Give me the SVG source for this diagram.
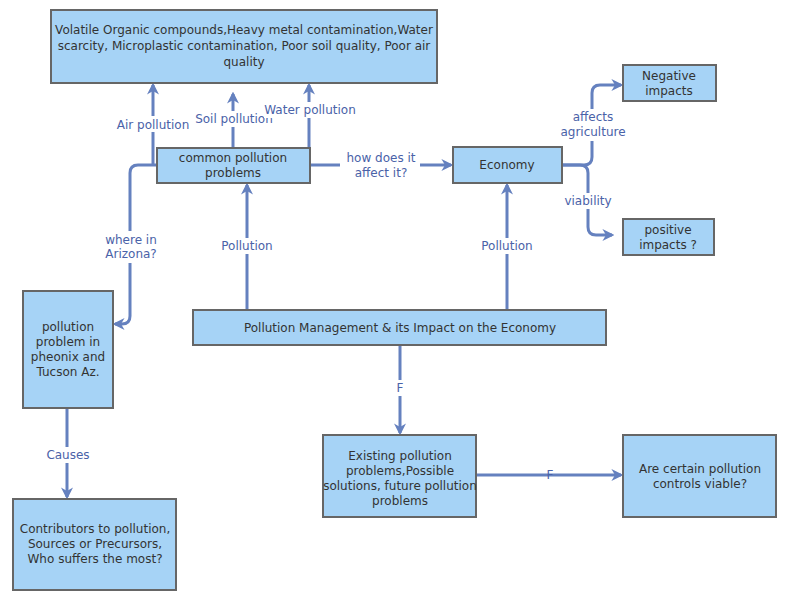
<svg xmlns="http://www.w3.org/2000/svg" width="790" height="600" viewBox="0 0 790 600">
<defs>
<style>
.n{fill:#a6d3f6;stroke:#666;stroke-width:2}
.t{font-family:"Comic Sans MS","DejaVu Sans",sans-serif;font-size:12px;fill:#333;text-anchor:middle}
.c{fill:none;stroke:#6581bf;stroke-width:3;stroke-linejoin:round}
.l{font-family:"Comic Sans MS","DejaVu Sans",sans-serif;font-size:12px;fill:#4a62a8;text-anchor:middle}
.bg{fill:#fff}
</style>
<marker id="a" viewBox="0 0 10 10" refX="8" refY="5" markerWidth="4" markerHeight="4" orient="auto"><path d="M0,0L10,5L0,10L3,5z" fill="#6581bf"/></marker>
</defs>
<rect width="790" height="600" fill="#fff"/>
<g id="connectors">
<path class="c" d="M153,165V85" marker-end="url(#a)"/>
<path class="c" d="M233,148V94" marker-end="url(#a)"/>
<path class="c" d="M309,148V85" marker-end="url(#a)"/>
<path class="c" d="M157,165H138Q130,165 130,173V316Q130,324 122,324H115" marker-end="url(#a)"/>
<path class="c" d="M67,408V497" marker-end="url(#a)"/>
<path class="c" d="M247,310V185" marker-end="url(#a)"/>
<path class="c" d="M507,310V185" marker-end="url(#a)"/>
<path class="c" d="M310,165H451" marker-end="url(#a)"/>
<path class="c" d="M562,165H584Q592,165 592,157V93Q592,85 600,85H621" marker-end="url(#a)"/>
<path class="c" d="M562,165H580Q588,165 588,173V227Q588,235 596,235H612" marker-end="url(#a)"/>
<path class="c" d="M400,345V433" marker-end="url(#a)"/>
<path class="c" d="M476,475H621" marker-end="url(#a)"/>
<rect class="bg" x="110" y="116" width="88" height="16"/><text class="l" x="153" y="129">Air pollution</text>
<rect class="bg" x="196" y="111" width="76" height="16"/><text class="l" x="234" y="123">Soil pollution</text>
<rect class="bg" x="264" y="102" width="92" height="16"/><text class="l" x="310" y="114">Water pollution</text>
<rect class="bg" x="104" y="231" width="56" height="32"/><text class="l" x="131" y="244">where in</text><text class="l" x="131" y="258">Arizona?</text>
<rect class="bg" x="45" y="447" width="46" height="16"/><text class="l" x="68" y="459">Causes</text>
<rect class="bg" x="220" y="238" width="54" height="16"/><text class="l" x="247" y="250">Pollution</text>
<rect class="bg" x="480" y="238" width="54" height="16"/><text class="l" x="507" y="250">Pollution</text>
<rect class="bg" x="340" y="150" width="80" height="32"/><text class="l" x="381" y="162">how does it</text><text class="l" x="381" y="177">affect it?</text>
<rect class="bg" x="556" y="109" width="74" height="32"/><text class="l" x="593" y="121">affects</text><text class="l" x="593" y="136">agriculture</text>
<rect class="bg" x="562" y="193" width="52" height="16"/><text class="l" x="588" y="205">viability</text>
<rect class="bg" x="393" y="380" width="14" height="16"/><text class="l" x="400" y="392">F</text>
<text class="l" x="550" y="479">F</text>
</g>
<g id="n1"><rect class="n" x="51" y="10" width="386" height="73"/><text class="t" x="244" y="34">Volatile Organic compounds,Heavy metal contamination,Water</text><text class="t" x="244" y="50">scarcity, Microplastic contamination, Poor soil quality, Poor air</text><text class="t" x="244" y="66">quality</text></g>
<g id="n2"><rect class="n" x="157" y="148" width="153" height="35"/><text class="t" x="233" y="162">common pollution</text><text class="t" x="233" y="177">problems</text></g>
<g id="n3"><rect class="n" x="453" y="147" width="109" height="36"/><text class="t" x="507" y="169">Economy</text></g>
<g id="n4"><rect class="n" x="623" y="65" width="93" height="36"/><text class="t" x="669" y="80">Negative</text><text class="t" x="669" y="95">impacts</text></g>
<g id="n5"><rect class="n" x="623" y="219" width="91" height="36"/><text class="t" x="668" y="234">positive</text><text class="t" x="668" y="249">impacts ?</text></g>
<g id="n6"><rect class="n" x="23" y="291" width="90" height="117"/><text class="t" x="68" y="331">pollution</text><text class="t" x="68" y="346">problem in</text><text class="t" x="68" y="361">pheonix and</text><text class="t" x="68" y="376">Tucson Az.</text></g>
<g id="n7"><rect class="n" x="13" y="499" width="163" height="91"/><text class="t" x="95" y="533">Contributors to pollution,</text><text class="t" x="95" y="548">Sources or Precursors,</text><text class="t" x="95" y="563">Who suffers the most?</text></g>
<g id="n8"><rect class="n" x="193" y="310" width="413" height="35"/><text class="t" x="400" y="332">Pollution Management &amp; its Impact on the Economy</text></g>
<g id="n9"><rect class="n" x="323" y="435" width="153" height="82"/><text class="t" x="400" y="460">Existing pollution</text><text class="t" x="400" y="475">problems,Possible</text><text class="t" x="400" y="490">solutions, future pollution</text><text class="t" x="400" y="505">problems</text></g>
<g id="n10"><rect class="n" x="623" y="435" width="153" height="82"/><text class="t" x="700" y="473">Are certain pollution</text><text class="t" x="700" y="488">controls viable?</text></g>
</svg>
